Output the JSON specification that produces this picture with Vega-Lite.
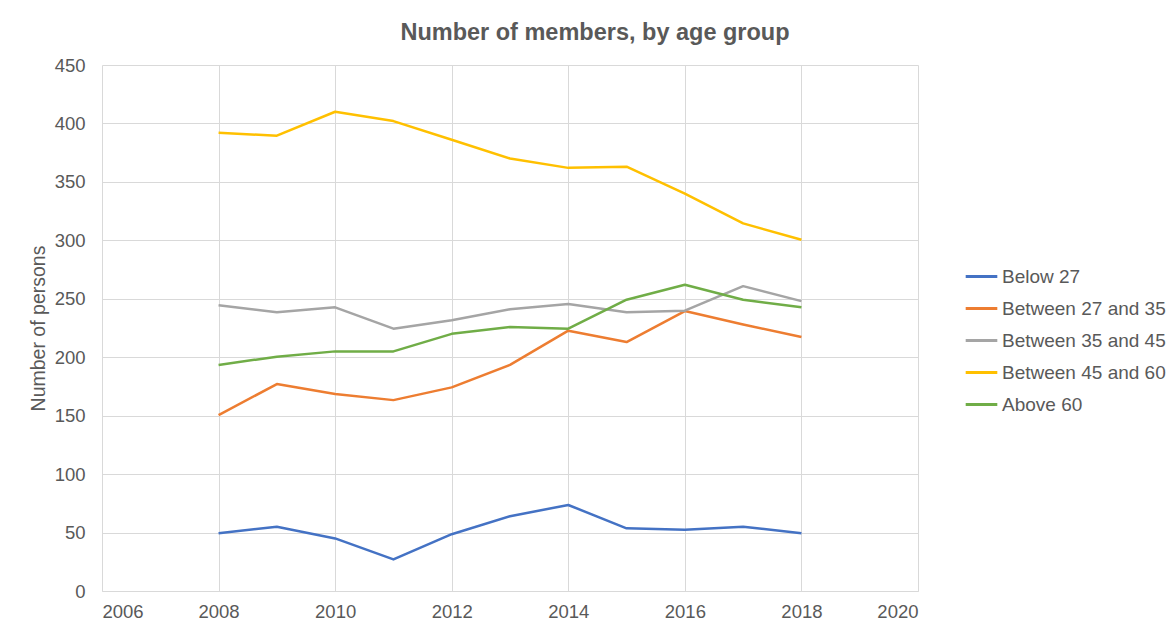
{
  "$schema": "https://vega.github.io/schema/vega-lite/v6.json",
  "width": 816,
  "height": 526,
  "autosize": {"type": "none"},
  "padding": {"left": 102, "top": 65, "right": 258, "bottom": 42},
  "background": "white",
  "title": {
    "text": "Number of members, by age group",
    "font": "Liberation Sans",
    "fontSize": 23.5,
    "fontWeight": "bold",
    "color": "#595959",
    "anchor": "middle",
    "frame": "group",
    "offset": 12,
    "dx": 85
  },
  "config": {
    "view": {"stroke": null},
    "axis": {
      "labelFont": "Liberation Sans",
      "labelFontSize": 18.5,
      "labelColor": "#595959",
      "titleFont": "Liberation Sans",
      "titleFontSize": 19.5,
      "titleFontWeight": "normal",
      "titleColor": "#595959",
      "gridColor": "#d9d9d9",
      "gridWidth": 1,
      "domainColor": "#d9d9d9",
      "ticks": false
    }
  },
  "data": {
    "values": [
      {"year": 2008, "group": "Below 27", "value": 49.4},
      {"year": 2009, "group": "Below 27", "value": 55},
      {"year": 2010, "group": "Below 27", "value": 45},
      {"year": 2011, "group": "Below 27", "value": 27},
      {"year": 2012, "group": "Below 27", "value": 48.6},
      {"year": 2013, "group": "Below 27", "value": 64},
      {"year": 2014, "group": "Below 27", "value": 73.6},
      {"year": 2015, "group": "Below 27", "value": 53.6},
      {"year": 2016, "group": "Below 27", "value": 52.3},
      {"year": 2017, "group": "Below 27", "value": 55},
      {"year": 2018, "group": "Below 27", "value": 49.4},
      {"year": 2008, "group": "Between 27 and 35", "value": 150.5},
      {"year": 2009, "group": "Between 27 and 35", "value": 177},
      {"year": 2010, "group": "Between 27 and 35", "value": 168.5},
      {"year": 2011, "group": "Between 27 and 35", "value": 163.3},
      {"year": 2012, "group": "Between 27 and 35", "value": 174.2},
      {"year": 2013, "group": "Between 27 and 35", "value": 193.4},
      {"year": 2014, "group": "Between 27 and 35", "value": 222.7},
      {"year": 2015, "group": "Between 27 and 35", "value": 213},
      {"year": 2016, "group": "Between 27 and 35", "value": 239.5},
      {"year": 2017, "group": "Between 27 and 35", "value": 228},
      {"year": 2018, "group": "Between 27 and 35", "value": 217.3},
      {"year": 2008, "group": "Between 35 and 45", "value": 244.4},
      {"year": 2009, "group": "Between 35 and 45", "value": 238.4},
      {"year": 2010, "group": "Between 35 and 45", "value": 242.7},
      {"year": 2011, "group": "Between 35 and 45", "value": 224.4},
      {"year": 2012, "group": "Between 35 and 45", "value": 231.6},
      {"year": 2013, "group": "Between 35 and 45", "value": 241},
      {"year": 2014, "group": "Between 35 and 45", "value": 245.5},
      {"year": 2015, "group": "Between 35 and 45", "value": 238.4},
      {"year": 2016, "group": "Between 35 and 45", "value": 239.8},
      {"year": 2017, "group": "Between 35 and 45", "value": 260.8},
      {"year": 2018, "group": "Between 35 and 45", "value": 248},
      {"year": 2008, "group": "Between 45 and 60", "value": 392},
      {"year": 2009, "group": "Between 45 and 60", "value": 389.5},
      {"year": 2010, "group": "Between 45 and 60", "value": 410},
      {"year": 2011, "group": "Between 45 and 60", "value": 402},
      {"year": 2012, "group": "Between 45 and 60", "value": 386},
      {"year": 2013, "group": "Between 45 and 60", "value": 370},
      {"year": 2014, "group": "Between 45 and 60", "value": 362},
      {"year": 2015, "group": "Between 45 and 60", "value": 363},
      {"year": 2016, "group": "Between 45 and 60", "value": 340},
      {"year": 2017, "group": "Between 45 and 60", "value": 314.5},
      {"year": 2018, "group": "Between 45 and 60", "value": 300.5},
      {"year": 2008, "group": "Above 60", "value": 193.4},
      {"year": 2009, "group": "Above 60", "value": 200.5},
      {"year": 2010, "group": "Above 60", "value": 205},
      {"year": 2011, "group": "Above 60", "value": 205},
      {"year": 2012, "group": "Above 60", "value": 220},
      {"year": 2013, "group": "Above 60", "value": 225.8},
      {"year": 2014, "group": "Above 60", "value": 224.4},
      {"year": 2015, "group": "Above 60", "value": 249.2},
      {"year": 2016, "group": "Above 60", "value": 262},
      {"year": 2017, "group": "Above 60", "value": 249.2},
      {"year": 2018, "group": "Above 60", "value": 242.7}
    ]
  },
  "mark": {"type": "line", "strokeWidth": 2.5, "strokeJoin": "round"},
  "encoding": {
    "x": {
      "field": "year",
      "type": "quantitative",
      "scale": {"domain": [2006, 2020], "nice": false, "zero": false},
      "axis": {"values": [2006, 2008, 2010, 2012, 2014, 2016, 2018, 2020], "format": "d", "title": null, "labelPadding": 11}
    },
    "y": {
      "field": "value",
      "type": "quantitative",
      "scale": {"domain": [0, 450], "nice": false},
      "axis": {"values": [0, 50, 100, 150, 200, 250, 300, 350, 400, 450], "title": "Number of persons", "domain": false, "labelPadding": 17, "titlePadding": 6}
    },
    "color": {
      "field": "group",
      "type": "nominal",
      "sort": ["Below 27", "Between 27 and 35", "Between 35 and 45", "Between 45 and 60", "Above 60"],
      "scale": {
        "domain": ["Below 27", "Between 27 and 35", "Between 35 and 45", "Between 45 and 60", "Above 60"],
        "range": ["#4472c4", "#ed7d31", "#a5a5a5", "#ffc000", "#70ad47"]
      },
      "legend": {
        "title": null,
        "orient": "none",
        "legendX": 862,
        "legendY": 194,
        "symbolType": "stroke",
        "symbolSize": 1000,
        "symbolStrokeWidth": 3,
        "labelFont": "Liberation Sans",
        "labelFontSize": 19,
        "labelColor": "#595959",
        "labelLimit": 300,
        "rowPadding": 4,
        "labelOffset": 3
      }
    }
  }
}
